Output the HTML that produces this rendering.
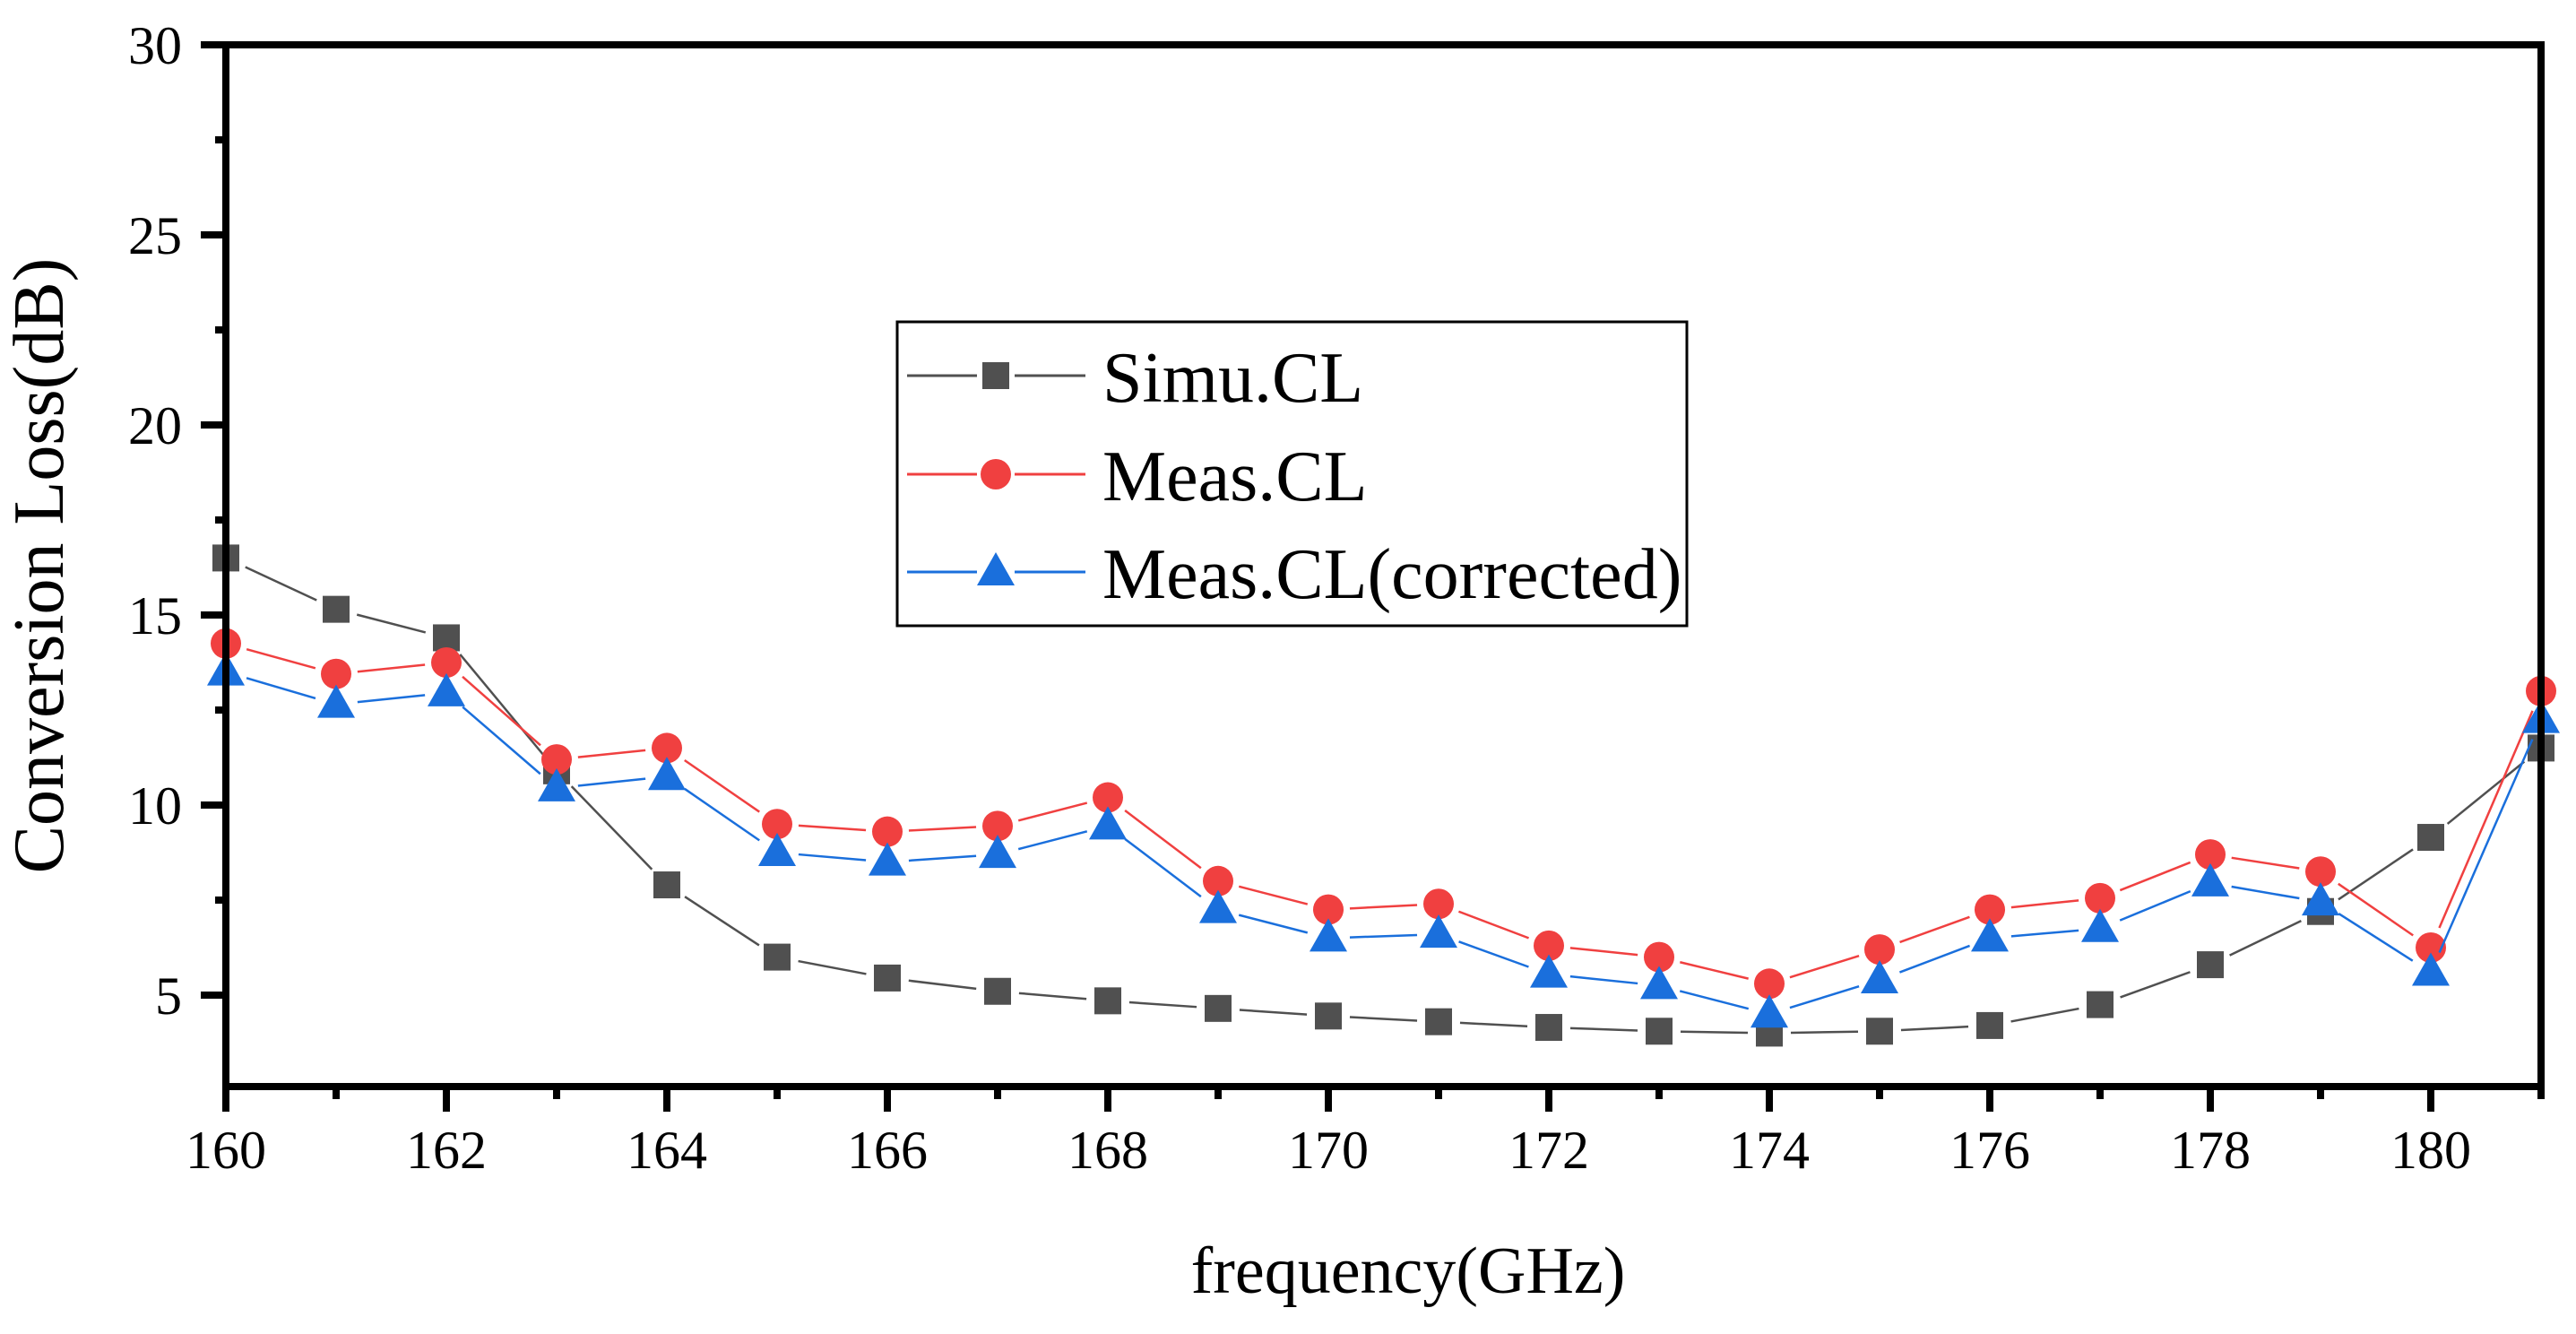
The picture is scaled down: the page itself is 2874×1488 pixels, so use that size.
<!DOCTYPE html>
<html><head><meta charset="utf-8"><style>
html,body{margin:0;padding:0;background:#fff;}
svg{display:block;}
text{font-family:"Liberation Serif",serif;fill:#000;}
</style></head><body>
<svg id="chart" width="2874" height="1488" viewBox="0 0 2874 1488">
<g id="marks"></g>
<g id="axes"></g>
</svg>
<script>
const freqs=[160,161,162,163,164,165,166,167,168,169,170,171,172,173,174,175,176,177,178,179,180,181];
const simuCL=[16.5,15.15,14.4,10.9,7.9,6.0,5.45,5.1,4.85,4.65,4.45,4.3,4.15,4.05,4.0,4.05,4.2,4.75,5.8,7.2,9.15,11.5];
const measCL=[14.25,13.45,13.75,11.2,11.5,9.5,9.3,9.45,10.2,8.0,7.25,7.4,6.3,6.0,5.3,6.2,7.25,7.55,8.7,8.25,6.25,13.0];
const corrCL=[13.5,12.65,12.95,10.45,10.75,8.75,8.5,8.7,9.45,7.25,6.5,6.6,5.55,5.25,4.5,5.4,6.5,6.75,7.95,7.45,5.6,12.25];
const xTicks=[160,162,164,166,168,170,172,174,176,178,180];
const yTicks=[5,10,15,20,25,30];

const L=252,R=2835,T=50,B=1212;
const xMin=160,xMax=181,yMax=30,yPx=42.4;
function X(v){return L+(v-xMin)*(R-L)/(xMax-xMin);}
function Y(v){return T+(yMax-v)*yPx;}
const NS="http://www.w3.org/2000/svg";
const marks=document.getElementById('marks'),axes=document.getElementById('axes');
function mk(tag,attrs,parent){const e=document.createElementNS(NS,tag);for(const k in attrs)e.setAttribute(k,attrs[k]);parent.appendChild(e);return e;}

const series=[
 {vals:simuCL,color:'#505050',shape:'square',name:'simu-cl'},
 {vals:measCL,color:'#f04040',shape:'circle',name:'meas-cl'},
 {vals:corrCL,color:'#1a6fdc',shape:'triangle',name:'meas-cl-corrected'}
];
function marker(shape,cx,cy,color,parent){
 let e;
 if(shape==='square')e=mk('rect',{x:cx-15,y:cy-15,width:30,height:30,fill:color},parent);
 else if(shape==='circle')e=mk('circle',{cx:cx,cy:cy,r:17,fill:color},parent);
 else e=mk('polygon',{points:`${cx},${cy-22} ${cx+21},${cy+15} ${cx-21},${cy+15}`,fill:color},parent);
 return e;
}
series.forEach(s=>{
 const g=mk('g',{},marks);
 
 
 for(let i=0;i<freqs.length-1;i++){
  const x1=X(freqs[i]),y1=Y(s.vals[i]),x2=X(freqs[i+1]),y2=Y(s.vals[i+1]);
  const d=Math.hypot(x2-x1,y2-y1),g0=24;
  if(d>2*g0){
   const ux=(x2-x1)/d,uy=(y2-y1)/d;
   const ln=mk('line',{x1:x1+ux*g0,y1:y1+uy*g0,x2:x2-ux*g0,y2:y2-uy*g0,stroke:s.color,'stroke-width':2.5},g);
   
   
  }
 }
 freqs.forEach((f,i)=>{
  const m=marker(s.shape,X(f),Y(s.vals[i]),s.color,g);
  
  
 });
});

const fr=mk('rect',{x:L,y:T,width:R-L,height:B-T,fill:'none',stroke:'#000','stroke-width':8},axes);


for(let f=160;f<=181;f++){
 const major=(f%2===0);
 const t=mk('line',{x1:X(f),y1:B,x2:X(f),y2:B+(major?28:14),stroke:'#000','stroke-width':8},axes);
 
 
}
xTicks.forEach(v=>{
 const t=mk('text',{x:X(v),y:1303,'font-size':60,'text-anchor':'middle'},axes);
 t.textContent=v;
 
 
});
for(let v=5;v<=30;v+=2.5){
 const major=(v%5===0);
 const t=mk('line',{x1:L,y1:Y(v),x2:L-(major?28:12),y2:Y(v),stroke:'#000','stroke-width':8},axes);
 
 
}
yTicks.forEach(v=>{
 const t=mk('text',{x:203,y:Y(v)+21,'font-size':60,'text-anchor':'end'},axes);
 t.textContent=v;
 
 
});
const xt=mk('text',{x:1571,y:1442,'font-size':74,'text-anchor':'middle'},axes);
xt.textContent='frequency(GHz)';


const yt=mk('text',{x:0,y:0,'font-size':80,'text-anchor':'middle',transform:'translate(70,631) rotate(-90)'},axes);
yt.textContent='Conversion Loss(dB)';



const lg=mk('g',{},axes);


mk('rect',{x:1001,y:359,width:881,height:339,fill:'#fff',stroke:'#000','stroke-width':3},lg);
const rows=[419,529,638],labels=['Simu.CL','Meas.CL','Meas.CL(corrected)'];
series.forEach((s,i)=>{
 const e=mk('g',{},lg);
 
 
 mk('line',{x1:1012,y1:rows[i],x2:1090,y2:rows[i],stroke:s.color,'stroke-width':3},e);
 mk('line',{x1:1132,y1:rows[i],x2:1211,y2:rows[i],stroke:s.color,'stroke-width':3},e);
 marker(s.shape,1111,rows[i],s.color,e);
 const t=mk('text',{x:1230,y:rows[i]+29,'font-size':80},e);
 t.textContent=labels[i];
});
</script>
</body></html>
